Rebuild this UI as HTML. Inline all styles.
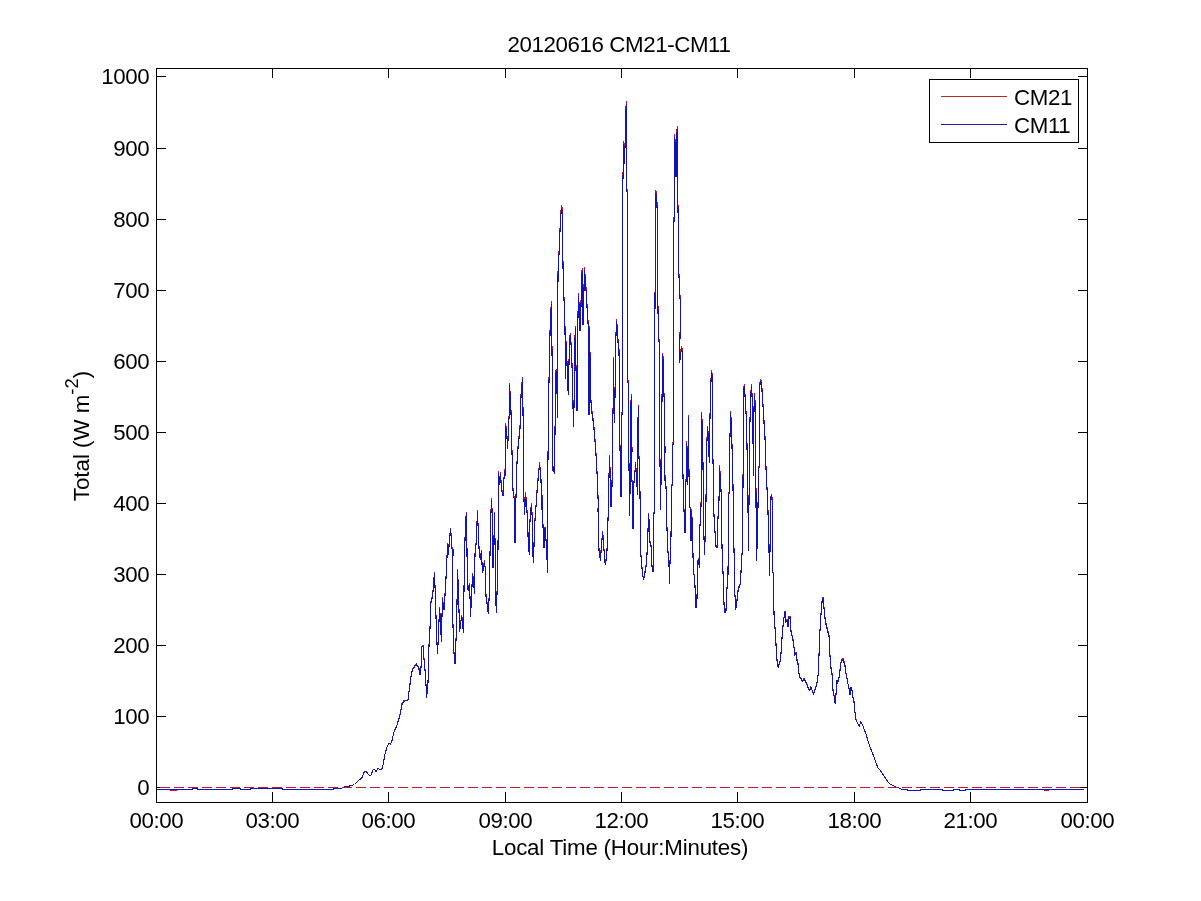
<!DOCTYPE html>
<html><head><meta charset="utf-8"><title>20120616 CM21-CM11</title>
<style>
html,body{margin:0;padding:0;background:#fff;}
svg{display:block;}
text{font-family:"Liberation Sans",sans-serif;font-size:22.3px;fill:#000;letter-spacing:-0.4px;}
</style></head><body>
<svg width="1201" height="901" viewBox="0 0 1201 901">
<rect x="0" y="0" width="1201" height="901" fill="#fff"/>
<polyline points="157.0,789.5 192.0,789.5 193.0,788.5 197.0,788.5 198.0,789.5 232.0,789.5 233.0,788.5 240.0,788.5 241.0,789.5 250.0,789.5 251.0,788.5 282.0,788.5 283.0,789.5 333.0,789.5 334.0,788.5 341.5,788.5 343.5,787.2 349.0,786.2 354.5,784.5 358.0,781.0 362.0,777.5 364.5,771.5 366.5,772.0 369.5,775.5 371.0,775.0 373.0,769.9 374.5,769.4 376.0,771.5 378.0,768.4 380.0,769.4 382.0,768.9 383.0,764.9 385.0,753.9 387.0,746.9 389.0,742.9 390.5,743.9 392.0,740.4 394.0,731.8 397.0,724.8 400.0,714.8 402.0,704.8 402.0,703.7 404.0,700.7 408.0,699.7 410.0,683.7 411.6,671.7 413.0,668.6 416.4,663.6 419.0,668.6 420.0,674.7 421.0,667.6 421.6,646.6 423.0,645.6 424.4,663.6 425.6,675.7 426.6,697.7 428.0,681.7 429.0,645.6 430.0,627.5 431.0,601.4 432.6,595.4 434.4,572.4 435.6,599.4 436.4,633.5 437.6,653.6 438.6,629.5 439.6,607.5 440.4,619.5 441.4,641.6 442.4,597.4 444.0,609.5 445.0,594.4 446.0,577.4 447.6,543.3 448.4,553.3 449.4,539.3 450.6,528.2 452.0,547.3 453.0,549.3 452.8,617.5 453.6,647.6 455.0,663.6 455.6,649.6 456.6,625.5 457.6,569.3 458.6,595.4 459.6,631.5 461.6,615.5 462.4,619.5 463.4,632.5 464.0,589.4 464.4,559.3 465.6,519.2 466.6,512.2 467.2,569.3 468.0,589.4 469.6,583.4 470.6,616.5 471.6,593.4 472.6,573.4 473.6,579.4 474.4,593.4 475.0,553.3 476.4,539.3 477.4,510.2 478.4,533.2 479.4,555.3 480.4,557.3 481.4,550.3 482.4,571.4 483.4,569.3 484.4,560.3 485.6,571.4 486.0,595.4 487.4,605.5 488.4,613.5 489.4,589.4 490.6,519.2 491.6,498.1 492.4,519.2 493.0,567.3 494.0,537.3 494.6,512.2 495.4,567.3 496.0,603.4 496.4,612.5 497.0,593.4 498.0,547.3 498.6,471.1 499.6,483.1 500.4,472.1 501.6,489.1 503.0,494.1 504.0,477.1 505.0,474.1 505.6,422.9 507.0,435.9 507.6,447.0 509.0,416.9 510.0,410.9 509.4,382.8 510.4,396.8 511.0,410.9 512.0,451.0 513.0,489.1 514.4,499.1 515.0,541.3 516.6,469.0 517.6,451.0 519.0,437.0 520.0,426.9 521.0,394.8 522.4,377.4 523.0,408.9 524.0,499.1 524.6,513.2 525.6,492.1 526.6,505.2 527.6,519.2 528.4,547.3 529.4,553.3 530.0,519.2 531.4,503.1 532.4,519.2 533.0,555.3 533.6,562.3 534.4,527.2 535.6,511.2 537.0,491.1 538.0,479.1 539.6,462.0 541.0,479.1 541.6,508.2 542.4,495.1 543.0,525.2 544.0,546.3 545.0,527.2 546.0,539.3 547.0,557.3 547.6,572.4 547.8,475.1 548.6,400.8 549.6,348.7 550.4,316.6 551.4,301.5 552.0,348.7 552.4,388.8 553.0,469.0 554.4,471.1 555.0,430.9 555.6,372.8 556.2,368.7 557.0,388.8 557.6,415.9 557.8,352.7 558.0,272.5 559.4,243.4 560.6,214.3 561.6,205.3 562.6,210.3 563.0,264.4 564.0,297.5 565.0,326.6 565.4,376.8 566.4,340.7 567.6,382.8 568.4,392.8 569.4,340.7 570.4,332.6 571.4,348.7 572.4,374.8 573.4,424.9 574.0,404.9 574.6,348.7 575.4,325.6 576.0,366.7 577.0,408.9 577.6,334.6 578.4,293.5 579.4,308.6 580.0,328.6 581.0,303.6 581.6,272.5 582.4,268.4 583.0,322.6 583.6,306.6 584.4,267.4 585.4,278.5 586.4,294.5 587.4,311.6 588.4,326.6 588.2,390.8 589.0,412.9 589.6,364.7 589.6,325.6 590.6,394.8 591.6,408.9 593.6,422.9 594.6,434.9 595.6,447.0 596.6,463.0 597.6,483.1 598.4,508.2 598.0,508.2 599.0,549.3 600.4,559.3 601.6,543.3 602.6,531.2 603.6,542.3 604.6,559.3 605.6,564.3 607.0,549.3 608.0,519.2 609.0,475.1 609.6,455.0 610.4,481.1 611.0,505.2 612.0,485.1 612.6,432.9 613.4,388.8 613.6,356.7 614.4,420.9 615.2,386.8 615.6,342.7 616.6,318.6 617.6,332.6 618.4,346.7 619.0,348.7 619.4,388.8 620.0,447.0 621.0,495.1 621.6,416.9 622.4,408.9 622.6,198.2 622.6,198.2 623.6,141.1 624.4,161.1 625.2,138.1 625.6,110.0 626.6,100.9 626.8,188.2 627.6,190.2 627.7,379.8 628.6,381.8 628.7,440.0 629.6,514.2 630.4,469.0 630.6,406.9 631.4,393.8 632.0,449.0 631.4,473.1 632.4,485.1 633.0,527.2 633.6,483.1 634.4,479.1 635.6,462.0 636.6,479.1 637.6,493.1 637.4,439.0 638.4,404.9 638.6,449.0 639.4,464.0 640.0,492.1 640.6,549.3 641.6,563.3 642.6,573.4 643.4,578.4 644.4,575.4 645.4,569.3 646.6,561.3 647.6,541.3 648.6,513.2 649.4,526.2 650.0,541.3 651.0,545.3 652.0,565.3 653.0,571.4 653.6,513.2 654.4,511.2 654.6,377.8 655.6,190.2 656.6,193.2 657.2,208.3 657.6,274.5 658.0,308.6 658.6,338.7 659.6,339.7 659.8,445.0 660.6,508.2 661.0,481.1 661.6,428.9 662.6,352.7 663.6,362.7 664.0,394.8 664.6,396.8 665.0,449.0 664.6,479.1 665.6,475.1 666.4,497.1 667.0,528.2 668.0,551.3 669.0,563.3 669.4,583.4 670.0,561.3 671.0,535.2 671.6,485.1 672.4,483.1 672.6,449.0 673.4,437.0 673.6,224.3 674.4,212.3 674.6,134.0 675.6,146.1 676.0,174.2 676.6,131.0 677.6,126.0 678.0,210.3 678.8,213.3 678.8,268.4 679.4,286.5 680.6,304.6 680.0,334.6 679.6,360.7 681.4,346.7 682.4,348.7 682.6,449.0 683.0,475.1 684.0,509.2 685.0,531.2 685.6,485.1 686.4,475.1 686.6,441.0 687.4,483.1 688.6,414.9 689.0,473.1 689.6,505.2 690.6,509.2 691.0,539.3 691.6,509.2 692.4,525.2 693.4,573.4 694.4,574.4 695.4,593.4 696.0,607.5 697.0,597.4 697.6,561.3 698.6,559.3 699.4,567.3 699.6,529.2 700.6,518.2 701.2,497.1 701.6,411.9 702.6,430.9 703.4,496.1 704.0,537.3 704.6,553.3 705.4,525.2 706.0,499.1 706.6,447.0 707.6,425.9 708.6,439.0 709.2,461.0 710.4,392.8 711.4,369.8 712.4,374.8 712.6,453.0 713.0,459.0 714.0,515.2 715.0,531.2 716.0,545.3 717.0,546.3 718.0,517.2 719.0,499.1 719.6,465.0 720.6,481.1 721.4,497.1 722.0,546.3 723.0,571.4 724.0,603.4 725.0,612.5 726.0,609.5 727.0,587.4 728.0,573.4 728.6,495.1 729.6,489.1 729.8,443.0 730.6,410.9 731.6,426.9 732.0,445.0 733.0,485.1 734.0,549.3 734.6,585.4 735.6,609.5 737.0,599.4 738.4,587.4 739.6,585.4 740.6,581.4 741.6,557.3 742.6,547.3 743.6,388.8 744.6,383.8 745.6,408.9 746.6,414.9 747.0,445.0 748.0,507.2 748.6,549.3 749.0,501.1 749.6,437.0 750.6,394.8 751.6,383.8 752.4,402.8 753.6,474.1 754.0,406.9 754.6,392.8 755.6,410.9 756.2,537.3 756.6,559.3 757.6,529.2 758.6,469.0 759.4,464.0 759.6,384.8 760.6,379.8 761.6,380.8 762.4,396.8 763.4,408.9 764.4,428.9 765.6,445.0 766.0,467.0 767.0,487.1 768.0,511.2 769.0,549.3 769.6,575.4 770.0,549.3 770.6,497.1 771.6,494.1 772.4,501.1 772.6,571.4 773.6,573.4 774.0,613.5 775.0,627.5 775.6,633.5 776.4,653.6 777.6,665.6 778.4,666.6 779.6,661.6 780.6,659.6 781.4,645.6 782.6,629.5 783.6,619.5 785.0,611.5 786.0,621.5 787.0,619.5 788.0,626.5 789.0,616.5 790.0,616.5 790.4,627.5 791.6,633.5 793.0,639.6 794.4,649.6 795.0,654.6 796.0,652.6 797.0,659.6 798.0,663.6 799.4,676.7 801.0,677.7 802.4,680.7 804.0,678.7 805.6,680.7 807.0,684.7 808.6,688.7 810.0,689.7 811.0,686.7 812.0,689.7 813.4,693.7 815.0,689.7 816.6,684.7 818.0,675.7 819.0,654.6 820.0,629.5 821.0,613.5 821.6,603.4 823.0,597.4 824.0,607.5 825.0,617.5 826.0,623.5 827.0,627.5 828.0,631.5 829.0,635.5 830.0,655.6 831.0,667.6 832.0,673.7 833.0,689.7 834.4,697.7 835.2,703.7 836.0,693.7 837.0,679.7 837.6,683.7 838.6,678.7 839.4,675.7 840.0,669.6 841.0,662.6 842.0,659.6 843.0,658.6 844.0,661.6 845.0,665.6 846.0,673.7 847.0,677.7 848.0,683.7 849.0,687.7 850.0,694.7 851.0,686.7 852.0,689.7 853.0,697.7 854.0,701.7 855.0,711.8 856.0,719.8 857.0,721.8 858.0,723.8 859.4,725.8 860.6,721.8 862.0,723.8 863.0,725.8 864.0,728.8 866.0,733.8 868.0,740.9 870.0,746.9 872.0,751.9 874.0,756.9 876.0,762.9 878.0,767.9 880.0,769.9 882.0,773.0 884.0,776.0 886.0,779.0 888.0,782.0 890.0,784.0 892.0,785.0 894.0,786.0 896.0,787.0 898.0,787.6 900.0,788.4 902.0,789.4 907.0,789.5 908.0,790.3 920.0,790.3 921.0,789.5 942.0,789.5 943.0,790.3 953.0,790.3 954.0,789.5 959.0,789.5 960.0,790.3 965.0,790.3 966.0,789.5 1084.0,789.5" fill="none" stroke="#c81030" stroke-width="1.08" stroke-linejoin="miter" shape-rendering="crispEdges" />
<path d="M170 790.5H177M942 790.5H953M1044 790.5H1049" stroke="#c81428" stroke-width="1" shape-rendering="crispEdges" fill="none"/>
<polyline points="157.0,789.5 192.0,789.5 193.0,788.5 197.0,788.5 198.0,789.5 232.0,789.5 233.0,788.5 240.0,788.5 241.0,789.5 250.0,789.5 251.0,788.5 282.0,788.5 283.0,789.5 333.0,789.5 334.0,788.5 341.5,788.5 343.5,787.2 349.0,786.2 354.5,784.5 358.0,781.0 362.0,777.5 364.5,771.5 366.5,772.0 369.5,775.5 371.0,775.0 373.0,770.0 374.5,769.5 376.0,771.5 378.0,768.5 380.0,769.5 382.0,769.0 383.0,765.0 385.0,754.1 387.0,747.1 389.0,743.1 390.5,744.1 392.0,740.6 394.0,732.1 397.0,725.1 400.0,715.1 402.0,705.2 402.0,704.2 404.0,701.2 408.0,700.2 410.0,684.2 411.6,672.2 413.0,669.2 416.4,664.2 419.0,669.2 420.0,675.2 421.0,668.2 421.6,647.3 423.0,646.3 424.4,664.2 425.6,676.2 426.6,698.2 428.0,682.2 429.0,646.3 430.0,628.3 431.0,602.4 432.6,596.4 434.4,573.4 435.6,600.4 436.4,634.3 437.6,654.3 438.6,630.3 439.6,608.4 440.4,620.3 441.4,642.3 442.4,598.4 444.0,610.4 445.0,595.4 446.0,578.4 447.6,544.5 448.4,554.5 449.4,540.5 450.6,529.5 452.0,548.5 453.0,550.5 452.8,618.3 453.6,648.3 455.0,664.2 455.6,650.3 456.6,626.3 457.6,570.4 458.6,596.4 459.6,632.3 461.6,616.3 462.4,620.3 463.4,633.3 464.0,590.4 464.4,560.5 465.6,520.5 466.6,513.5 467.2,570.4 468.0,590.4 469.6,584.4 470.6,617.3 471.6,594.4 472.6,574.4 473.6,580.4 474.4,594.4 475.0,554.5 476.4,540.5 477.4,511.6 478.4,534.5 479.4,556.5 480.4,558.5 481.4,551.5 482.4,572.4 483.4,570.4 484.4,561.5 485.6,572.4 486.0,596.4 487.4,606.4 488.4,614.3 489.4,590.4 490.6,520.5 491.6,499.6 492.4,520.5 493.0,568.4 494.0,538.5 494.6,513.5 495.4,568.4 496.0,604.4 496.4,613.3 497.0,594.4 498.0,548.5 498.6,472.6 499.6,484.6 500.4,473.6 501.6,490.6 503.0,495.6 504.0,478.6 505.0,475.6 505.6,424.7 507.0,437.7 507.6,448.7 509.0,418.7 510.0,412.8 509.4,384.8 510.4,398.8 511.0,412.8 512.0,452.7 513.0,490.6 514.4,500.6 515.0,542.5 516.6,470.6 517.6,452.7 519.0,438.7 520.0,428.7 521.0,396.8 522.4,379.4 523.0,410.8 524.0,500.6 524.6,514.5 525.6,493.6 526.6,506.6 527.6,520.5 528.4,548.5 529.4,554.5 530.0,520.5 531.4,504.6 532.4,520.5 533.0,556.5 533.6,563.4 534.4,528.5 535.6,512.6 537.0,492.6 538.0,480.6 539.6,463.6 541.0,480.6 541.6,509.6 542.4,496.6 543.0,526.5 544.0,547.5 545.0,528.5 546.0,540.5 547.0,558.5 547.6,573.4 547.8,476.6 548.6,402.8 549.6,350.9 550.4,318.9 551.4,304.0 552.0,350.9 552.4,390.8 553.0,470.6 554.4,472.6 555.0,432.7 555.6,374.8 556.2,370.8 557.0,390.8 557.6,417.7 557.8,354.9 558.0,275.0 559.4,246.1 560.6,217.1 561.6,208.2 562.6,213.2 563.0,267.0 564.0,300.0 565.0,328.9 565.4,378.8 566.4,342.9 567.6,384.8 568.4,394.8 569.4,342.9 570.4,334.9 571.4,350.9 572.4,376.8 573.4,426.7 574.0,406.8 574.6,350.9 575.4,327.9 576.0,368.8 577.0,410.8 577.6,336.9 578.4,296.0 579.4,311.0 580.0,330.9 581.0,306.0 581.6,275.0 582.4,271.0 583.0,324.9 583.6,309.0 584.4,270.0 585.4,281.0 586.4,297.0 587.4,313.9 588.4,328.9 588.2,392.8 589.0,414.7 589.6,366.8 589.6,327.9 590.6,396.8 591.6,410.8 593.6,424.7 594.6,436.7 595.6,448.7 596.6,464.6 597.6,484.6 598.4,509.6 598.0,509.6 599.0,550.5 600.4,560.5 601.6,544.5 602.6,532.5 603.6,543.5 604.6,560.5 605.6,565.4 607.0,550.5 608.0,520.5 609.0,476.6 609.6,456.7 610.4,482.6 611.0,506.6 612.0,486.6 612.6,434.7 613.4,390.8 613.6,358.9 614.4,422.7 615.2,388.8 615.6,344.9 616.6,320.9 617.6,334.9 618.4,348.9 619.0,350.9 619.4,390.8 620.0,448.7 621.0,496.6 621.6,418.7 622.4,410.8 622.6,201.2 622.6,201.2 623.6,144.3 624.4,164.2 625.2,141.3 625.6,113.4 626.6,104.4 626.8,191.2 627.6,193.2 627.7,381.8 628.6,383.8 628.7,441.7 629.6,515.5 630.4,470.6 630.6,408.8 631.4,395.8 632.0,450.7 631.4,474.6 632.4,486.6 633.0,528.5 633.6,484.6 634.4,480.6 635.6,463.6 636.6,480.6 637.6,494.6 637.4,440.7 638.4,406.8 638.6,450.7 639.4,465.6 640.0,493.6 640.6,550.5 641.6,564.4 642.6,574.4 643.4,579.4 644.4,576.4 645.4,570.4 646.6,562.5 647.6,542.5 648.6,514.5 649.4,527.5 650.0,542.5 651.0,546.5 652.0,566.4 653.0,572.4 653.6,514.5 654.4,512.6 654.6,379.8 655.6,193.2 656.6,196.2 657.2,211.2 657.6,277.0 658.0,311.0 658.6,340.9 659.6,341.9 659.8,446.7 660.6,509.6 661.0,482.6 661.6,430.7 662.6,354.9 663.6,364.8 664.0,396.8 664.6,398.8 665.0,450.7 664.6,480.6 665.6,476.6 666.4,498.6 667.0,529.5 668.0,552.5 669.0,564.4 669.4,584.4 670.0,562.5 671.0,536.5 671.6,486.6 672.4,484.6 672.6,450.7 673.4,438.7 673.6,227.1 674.4,215.1 674.6,137.3 675.6,149.3 676.0,177.2 676.6,134.3 677.6,129.3 678.0,213.2 678.8,216.1 678.8,271.0 679.4,289.0 680.6,307.0 680.0,336.9 679.6,362.9 681.4,348.9 682.4,350.9 682.6,450.7 683.0,476.6 684.0,510.6 685.0,532.5 685.6,486.6 686.4,476.6 686.6,442.7 687.4,484.6 688.6,416.7 689.0,474.6 689.6,506.6 690.6,510.6 691.0,540.5 691.6,510.6 692.4,526.5 693.4,574.4 694.4,575.4 695.4,594.4 696.0,608.4 697.0,598.4 697.6,562.5 698.6,560.5 699.4,568.4 699.6,530.5 700.6,519.5 701.2,498.6 701.6,413.7 702.6,432.7 703.4,497.6 704.0,538.5 704.6,554.5 705.4,526.5 706.0,500.6 706.6,448.7 707.6,427.7 708.6,440.7 709.2,462.7 710.4,394.8 711.4,371.8 712.4,376.8 712.6,454.7 713.0,460.7 714.0,516.5 715.0,532.5 716.0,546.5 717.0,547.5 718.0,518.5 719.0,500.6 719.6,466.6 720.6,482.6 721.4,498.6 722.0,547.5 723.0,572.4 724.0,604.4 725.0,613.3 726.0,610.4 727.0,588.4 728.0,574.4 728.6,496.6 729.6,490.6 729.8,444.7 730.6,412.8 731.6,428.7 732.0,446.7 733.0,486.6 734.0,550.5 734.6,586.4 735.6,610.4 737.0,600.4 738.4,588.4 739.6,586.4 740.6,582.4 741.6,558.5 742.6,548.5 743.6,390.8 744.6,385.8 745.6,410.8 746.6,416.7 747.0,446.7 748.0,508.6 748.6,550.5 749.0,502.6 749.6,438.7 750.6,396.8 751.6,385.8 752.4,404.8 753.6,475.6 754.0,408.8 754.6,394.8 755.6,412.8 756.2,538.5 756.6,560.5 757.6,530.5 758.6,470.6 759.4,465.6 759.6,386.8 760.6,381.8 761.6,382.8 762.4,398.8 763.4,410.8 764.4,430.7 765.6,446.7 766.0,468.6 767.0,488.6 768.0,512.6 769.0,550.5 769.6,576.4 770.0,550.5 770.6,498.6 771.6,495.6 772.4,502.6 772.6,572.4 773.6,574.4 774.0,614.3 775.0,628.3 775.6,634.3 776.4,654.3 777.6,666.2 778.4,667.2 779.6,662.3 780.6,660.3 781.4,646.3 782.6,630.3 783.6,620.3 785.0,612.4 786.0,622.3 787.0,620.3 788.0,627.3 789.0,617.3 790.0,617.3 790.4,628.3 791.6,634.3 793.0,640.3 794.4,650.3 795.0,655.3 796.0,653.3 797.0,660.3 798.0,664.2 799.4,677.2 801.0,678.2 802.4,681.2 804.0,679.2 805.6,681.2 807.0,685.2 808.6,689.2 810.0,690.2 811.0,687.2 812.0,690.2 813.4,694.2 815.0,690.2 816.6,685.2 818.0,676.2 819.0,655.3 820.0,630.3 821.0,614.3 821.6,604.4 823.0,598.4 824.0,608.4 825.0,618.3 826.0,624.3 827.0,628.3 828.0,632.3 829.0,636.3 830.0,656.3 831.0,668.2 832.0,674.2 833.0,690.2 834.4,698.2 835.2,704.2 836.0,694.2 837.0,680.2 837.6,684.2 838.6,679.2 839.4,676.2 840.0,670.2 841.0,663.2 842.0,660.3 843.0,659.3 844.0,662.3 845.0,666.2 846.0,674.2 847.0,678.2 848.0,684.2 849.0,688.2 850.0,695.2 851.0,687.2 852.0,690.2 853.0,698.2 854.0,702.2 855.0,712.2 856.0,720.1 857.0,722.1 858.0,724.1 859.4,726.1 860.6,722.1 862.0,724.1 863.0,726.1 864.0,729.1 866.0,734.1 868.0,741.1 870.0,747.1 872.0,752.1 874.0,757.1 876.0,763.0 878.0,768.0 880.0,770.0 882.0,773.0 884.0,776.0 886.0,779.0 888.0,782.0 890.0,784.0 892.0,785.0 894.0,786.0 896.0,787.0 898.0,787.6 900.0,788.4 902.0,789.4 907.0,789.5 908.0,790.3 920.0,790.3 921.0,789.5 942.0,789.5 943.0,790.3 953.0,790.3 954.0,789.5 959.0,789.5 960.0,790.3 965.0,790.3 966.0,789.5 1084.0,789.5" fill="none" stroke="#1212bc" stroke-width="1.08" stroke-linejoin="miter" shape-rendering="crispEdges" />
<rect x="156.5" y="68.5" width="931" height="734" fill="none" stroke="#000" stroke-width="1" shape-rendering="crispEdges"/>
<path d="M272.5 802V792M272.5 69V78M388.5 802V792M388.5 69V78M505.5 802V792M505.5 69V78M621.5 802V792M621.5 69V78M737.5 802V792M737.5 69V78M854.5 802V792M854.5 69V78M970.5 802V792M970.5 69V78M157 787.5H166M1087 787.5H1078M157 716.5H166M1087 716.5H1078M157 645.5H166M1087 645.5H1078M157 574.5H166M1087 574.5H1078M157 503.5H166M1087 503.5H1078M157 432.5H166M1087 432.5H1078M157 361.5H166M1087 361.5H1078M157 290.5H166M1087 290.5H1078M157 219.5H166M1087 219.5H1078M157 148.5H166M1087 148.5H1078M157 76.5H166M1087 76.5H1078" stroke="#000" stroke-width="1" fill="none" shape-rendering="crispEdges"/>
<path d="M156 787.5H1080" stroke="#c81428" stroke-width="1" stroke-dasharray="10 4" stroke-dashoffset="10" shape-rendering="crispEdges" fill="none"/>
<text x="156.3" y="828" text-anchor="middle">00:00</text>
<text x="272.3" y="828" text-anchor="middle">03:00</text>
<text x="388.3" y="828" text-anchor="middle">06:00</text>
<text x="505.3" y="828" text-anchor="middle">09:00</text>
<text x="621.3" y="828" text-anchor="middle">12:00</text>
<text x="737.3" y="828" text-anchor="middle">15:00</text>
<text x="854.3" y="828" text-anchor="middle">18:00</text>
<text x="970.3" y="828" text-anchor="middle">21:00</text>
<text x="1087.3" y="828" text-anchor="middle">00:00</text>
<text x="149.3" y="795.2" text-anchor="end">0</text>
<text x="149.3" y="724.2" text-anchor="end">100</text>
<text x="149.3" y="653.2" text-anchor="end">200</text>
<text x="149.3" y="582.2" text-anchor="end">300</text>
<text x="149.3" y="511.2" text-anchor="end">400</text>
<text x="149.3" y="440.2" text-anchor="end">500</text>
<text x="149.3" y="369.2" text-anchor="end">600</text>
<text x="149.3" y="298.2" text-anchor="end">700</text>
<text x="149.3" y="227.2" text-anchor="end">800</text>
<text x="149.3" y="156.2" text-anchor="end">900</text>
<text x="149.3" y="84.2" text-anchor="end">1000</text>
<text x="619" y="52" text-anchor="middle">20120616 CM21-CM11</text>
<text x="620" y="854.5" text-anchor="middle" style="letter-spacing:-0.2px">Local Time (Hour:Minutes)</text>
<text transform="translate(89.3,436) rotate(-90)" text-anchor="middle" style="letter-spacing:0px">Total (W m<tspan dy="-11" font-size="18.5px">-2</tspan><tspan dy="11">)</tspan></text>
<rect x="929.5" y="79.5" width="149" height="63" fill="#fff" stroke="#000" stroke-width="1" shape-rendering="crispEdges"/>
<line x1="941" y1="96.5" x2="1007" y2="96.5" stroke="#b42828" stroke-width="1" shape-rendering="crispEdges"/>
<line x1="941" y1="124.5" x2="1007" y2="124.5" stroke="#1e1e96" stroke-width="1" shape-rendering="crispEdges"/>
<text x="1014" y="104.6">CM21</text>
<text x="1014" y="132.8">CM11</text>
</svg></body></html>
